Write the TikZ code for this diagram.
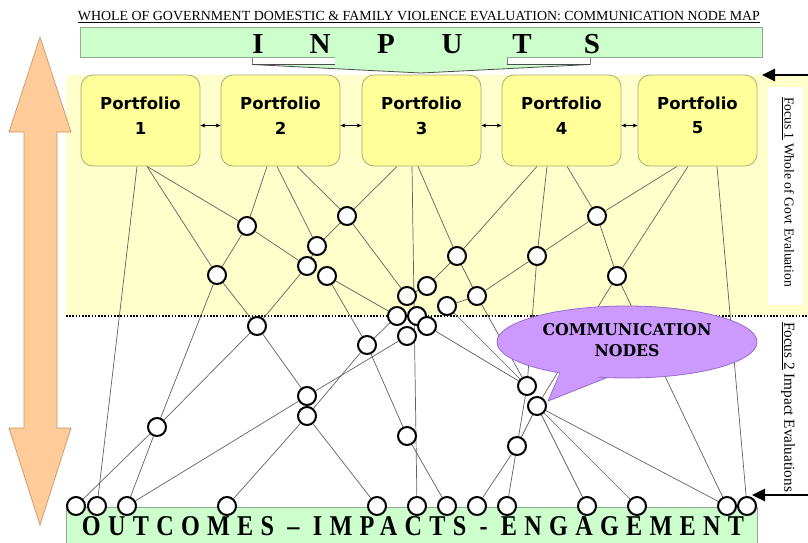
\documentclass[tikz,border=0pt]{standalone}
\usepackage{fontspec}
\setmainfont{Liberation Serif}
\newfontfamily\pfont{DejaVu Sans}
\newfontfamily\bubfont{DejaVu Serif}
\usetikzlibrary{arrows.meta,calc}
\pgfdeclarelayer{back}
\pgfdeclarelayer{wires}
\pgfsetlayers{back,wires,main}
\definecolor{bgyel}{HTML}{FFFFCC}
\definecolor{pyel}{HTML}{FFFF99}
\definecolor{pbord}{HTML}{A8A878}
\definecolor{igreen}{HTML}{CCFFCC}
\definecolor{gbord}{HTML}{8FA88F}
\definecolor{orfill}{HTML}{FFCC99}
\definecolor{orbord}{HTML}{C8946A}
\definecolor{bubf}{HTML}{CC99FF}
\definecolor{bubd}{HTML}{9A6ACF}
\begin{document}
\begin{tikzpicture}[x=1pt,y=-1pt,
  wire/.style={draw=black!62, line width=0.7pt},
  cn/.style={circle, draw=black, line width=2pt, fill=white, minimum size=18pt, inner sep=0pt},
  pbox/.style={draw=pbord, line width=0.8pt, fill=pyel, rounded corners=12pt, minimum width=119pt, minimum height=91pt, inner sep=0pt},
  ptext/.style={font=\pfont\bfseries\fontsize{16.5}{18}\selectfont, inner sep=0pt},
  inletter/.style={anchor=base, inner sep=0pt, font=\bfseries\fontsize{29}{31}\selectfont},
  bigarrow/.style={line width=2.6pt, -{Triangle[length=13pt,width=12pt]}},
  parrow/.style={line width=0.6pt, {Stealth[length=5pt,width=4pt]}-{Stealth[length=5pt,width=4pt]}},
  bubble/.style={fill=bubf, draw=bubd, line width=0.8pt}]
\useasboundingbox (0,0) rectangle (808,542);

% ---------- background ----------
\begin{pgfonlayer}{back}
  \fill[bgyel] (66,75) rectangle (808,316);
  \fill[white] (768,87) rectangle (803,305);
  \draw[line width=1.8pt, dash pattern=on 1.6pt off 1.6pt] (66,316) -- (808,316);
  % orange double arrow
  \draw[fill=orfill, draw=orbord, line width=0.7pt]
    (40,37) -- (71,132) -- (57,132) -- (57,428) -- (71,428) -- (40,525)
    -- (9,428) -- (24,428) -- (24,132) -- (9,132) -- cycle;
  % inputs box with down arrow
  \draw[fill=white, draw=gray, line width=0.6pt] (252,57) rectangle (335,64);
  \draw[fill=white, draw=gray, line width=0.6pt] (507,57) rectangle (590,64);
  \draw[fill=igreen, draw=black!70, line width=0.8pt] (252,64.5) -- (590,64.5) -- (421,73) -- cycle;
  \draw[fill=igreen, draw=gbord, line width=0.7pt] (80,27) rectangle (762,57);
  \fill[igreen] (335.4,56) rectangle (506.6,65.5);
  % outcomes box
  \draw[fill=igreen, draw=gbord, line width=0.7pt] (66,507) rectangle (757,545);
\end{pgfonlayer}

% ---------- texts ----------
\node[anchor=base, inner sep=0pt] (title) at (419,20)
  {\resizebox{682pt}{!}{\fontsize{11}{12}\selectfont\underline{WHOLE OF GOVERNMENT DOMESTIC \& FAMILY VIOLENCE EVALUATION: COMMUNICATION NODE MAP}}};
\foreach \l/\x [count=\i] in {I/258,N/320,P/386,U/452,T/522,S/592}
  \node[inletter] (in\i) at (\x,53) {\l};
\node[rotate=-90, inner sep=0pt] (f1) at (788,192)
  {\resizebox{190pt}{!}{\underline{Focus 1} Whole of Govt Evaluation}};
\node[rotate=-90, inner sep=0pt] (f2) at (788,407)
  {\resizebox{170pt}{!}{\underline{Focus 2} Impact Evaluations}};
\node[anchor=base, inner sep=0pt] (out) at (413,535)
  {\resizebox{662pt}{19pt}{\bfseries\addfontfeature{LetterSpace=30}OUTCOMES – IMPACTS - ENGAGEMENT}};

% ---------- right arrows ----------
\coordinate (a1s) at (808,75);
\coordinate (a1e) at (762,75);
\coordinate (a2s) at (808,495);
\coordinate (a2e) at (752,495);
\draw[bigarrow] (a1s) -- (a1e);
\draw[bigarrow] (a2s) -- (a2e);

% ---------- portfolios ----------
\foreach \i/\x in {1/140.5,2/280.5,3/421.5,4/561.5,5/697.5}{
  \node[pbox] (p\i) at (\x,120.5) {};
  \node[ptext] (pt\i) at (\x,103) {Portfolio};
  \node[ptext] (pn\i) at (\x,128) {\i};
}
\foreach \a/\b in {p1/p2,p2/p3,p3/p4,p4/p5}
  \draw[parrow] ([yshift=-5pt]\a.east) -- ([yshift=-5pt]\b.west);

% ---------- communication nodes ----------
\foreach \n/\x/\y in {c1/247/226, c2/217/275, c3/347/216, c4/317/246, c5/307/266,
  c6/327/276, c7/457/256, c8/537/256, c9/597/216, c10/617/276, c11/427/286,
  c12/407/296, c13/477/296, c14/447/306, c15/397/316, c16/417/316, c17/427/326,
  c18/407/336, c19/257/326, c20/367/345, c21/157/427, c22/307/396, c23/307/416,
  c24/407/436, c25/527/386, c26/537/406, c27/517/446,
  b1/76/506, b2/97/506, b3/127/506, b4/227/506, b5/377/506, b6/417/506,
  b7/447/506, b8/477/506, b9/507/506, b10/587/506, b11/637/506, b12/727/506, b13/747/506}
  \node[cn] (\n) at (\x,\y) {};

% ---------- wires ----------
\begin{pgfonlayer}{wires}
  \foreach \p/\dx/\b in {p1/-3.5/b2, p1/6.5/c1, p1/6.5/c2, p2/-13.5/c1, p2/-3.5/c4,
    p2/16.5/c3, p3/-24.5/c3, p3/-9.5/b6, p3/-3.5/c7, p4/-24.5/c7, p4/-14.5/c8,
    p4/5.5/c9, p5/-20.5/c9, p5/-9.5/c10, p5/19.5/b13}
    \draw[wire] ([xshift=\dx pt]\p.south) -- (\b);
  \foreach \a/\b in {c1/c2, c1/c5, c3/c4, c3/c12, c4/c5, c5/c19, c2/c19, c2/c21,
    c6/c15, c6/c20, c7/c11, c11/c12, c7/c13, c13/c14, c8/c13, c9/c8, c9/c10,
    c8/c25, c13/c25, c17/c25, c14/c25, c10/c26, c10/b12, c20/c15, c20/c23,
    c20/c24, c18/c22, c22/b3, c19/c21, c19/c22, c23/b4, c23/b5, c21/b1, c21/b3,
    c24/b7, c25/c27, c26/c27, c27/b8, c27/b9, c26/b10, c26/b11, c26/b12}
    \draw[wire] (\a) -- (\b);
\end{pgfonlayer}

% ---------- speech bubble ----------
\draw[bubble] (560,373) -- (548,401) -- (607,377.6) -- cycle;
\draw[bubble] (627,342) ellipse [x radius=130pt, y radius=36pt];
\fill[bubf] (561.5,369) -- (552.5,394) -- (603,375.5) -- cycle;
\node[inner sep=0pt, font=\bubfont\bfseries] (bt1) at (627,330) {\resizebox{169pt}{12pt}{COMMUNICATION}};
\node[inner sep=0pt, font=\bubfont\bfseries] (bt2) at (627,351) {\resizebox{65pt}{12pt}{NODES}};
\end{tikzpicture}
\end{document}
